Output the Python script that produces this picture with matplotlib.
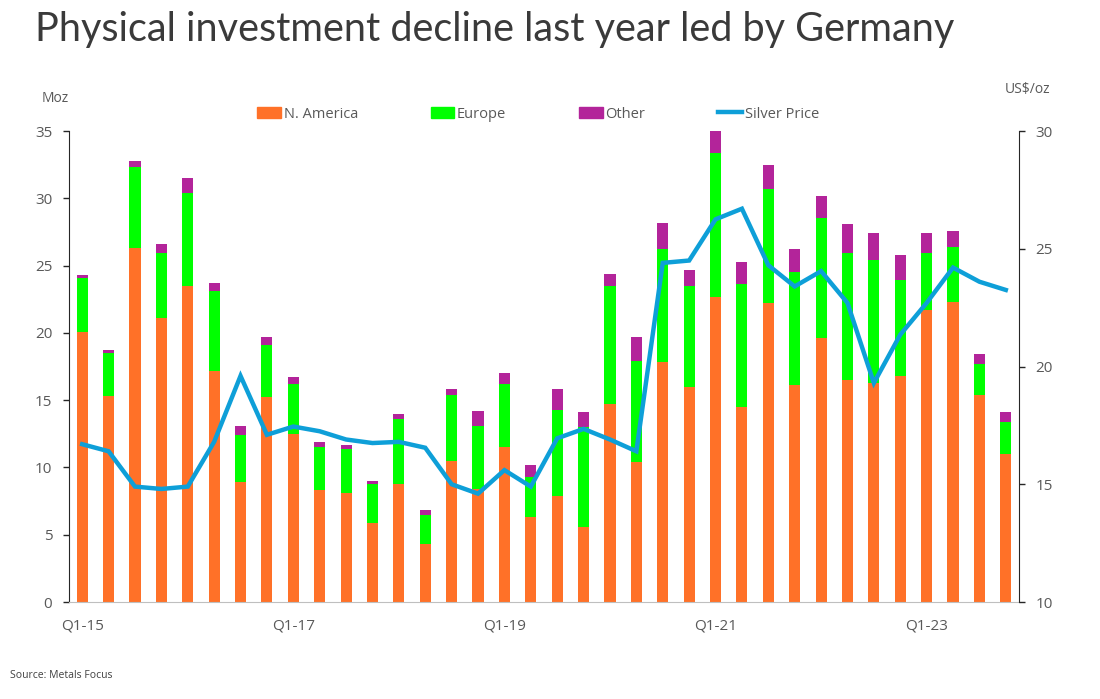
import numpy as np
import matplotlib
matplotlib.use("Agg")
import matplotlib.pyplot as plt
from matplotlib.patches import Patch
from matplotlib.lines import Line2D

plt.rcParams['font.family'] = ['Open Sans', 'DejaVu Sans']

# quarterly data, Q1-15 .. Q4-23
quarters = ["Q%d-%d" % (q, y) for y in range(15, 24) for q in range(1, 5)]
n_america = [20.1, 15.3, 26.3, 21.1, 23.5, 17.2, 8.9, 15.2, 12.5, 8.3,
             8.1, 5.9, 8.8, 4.3, 10.5, 8.4, 11.5, 6.3, 7.9, 5.6,
             14.7, 10.4, 17.8, 16.0, 22.7, 14.5, 22.2, 16.1, 19.6, 16.5,
             16.3, 16.8, 21.7, 22.3, 15.4, 11.0]
europe = [4.0, 3.2, 6.0, 4.8, 6.9, 5.9, 3.5, 3.9, 3.7, 3.2,
          3.3, 2.9, 4.8, 2.2, 4.9, 4.7, 4.7, 3.0, 6.4, 7.4,
          8.8, 7.5, 8.4, 7.5, 10.7, 9.1, 8.5, 8.4, 8.9, 9.4,
          9.1, 7.1, 4.2, 4.1, 2.3, 2.4]
other = [0.2, 0.2, 0.5, 0.7, 1.1, 0.6, 0.7, 0.6, 0.5, 0.4,
         0.3, 0.2, 0.4, 0.3, 0.4, 1.1, 0.8, 0.9, 1.5, 1.1,
         0.9, 1.8, 2.0, 1.2, 1.6, 1.7, 1.8, 1.7, 1.7, 2.2,
         2.0, 1.9, 1.5, 1.2, 0.7, 0.7]
silver_price = [16.7, 16.4, 14.9, 14.8, 14.9, 16.8, 19.6, 17.1, 17.45, 17.25,
                16.9, 16.75, 16.8, 16.55, 15.0, 14.6, 15.6, 14.9, 16.95, 17.35,
                16.9, 16.4, 24.4, 24.5, 26.25, 26.7, 24.3, 23.4, 24.05, 22.7,
                19.3, 21.35, 22.7, 24.2, 23.6, 23.25]
tick_labels = ["Q1-15", "Q1-17", "Q1-19", "Q1-21", "Q1-23"]

c_na = "#FF7128"
c_eu = "#00FF00"
c_ot = "#B3249A"
c_px = "#0E9FD8"
grey = "#595959"

x = np.arange(len(quarters))
na = np.array(n_america)
eu = np.array(europe)
ot = np.array(other)

fig = plt.figure(figsize=(11, 6.99), dpi=100)
ax = fig.add_axes([69/1100, 1 - 602/699, 950/1100, 471/699])

ax.bar(x, na, width=0.42, color=c_na, zorder=2)
ax.bar(x, eu, width=0.42, bottom=na, color=c_eu, zorder=2)
ax.bar(x, ot, width=0.42, bottom=na + eu, color=c_ot, zorder=2)

ax.set_xlim(-0.5, 35.5)
ax.set_ylim(0, 35)
ax.set_yticks(range(0, 36, 5))
ax.set_xticks(x[::8])
ax.set_xticklabels(tick_labels)
ax.tick_params(axis='x', length=0, pad=12, labelsize=11, labelcolor=grey)
ax.tick_params(axis='y', length=4, width=1, pad=8, labelsize=11, labelcolor=grey, color="#262626")
for s in ["top", "right"]:
    ax.spines[s].set_visible(False)
ax.spines["left"].set_color("#262626")
ax.spines["bottom"].set_color("#BFBFBF")

ax2 = ax.twinx()
ax2.plot(x, silver_price, color=c_px, lw=3.2, zorder=3, solid_joinstyle="miter")
ax2.set_ylim(10, 30)
ax2.set_yticks(range(10, 31, 5))
ax2.tick_params(axis='y', length=4, width=1, pad=8, labelsize=11, labelcolor=grey, color="#262626")
for s in ["top", "left", "bottom"]:
    ax2.spines[s].set_visible(False)
ax2.spines["right"].set_color("#262626")

fig.text(35/1100, 1 - 30/699, "Physical investment decline last year led by Germany",
         fontsize=28.5, color="#3a3a3a", va="center", ha="left", family=["Lato", "DejaVu Sans"])
fig.text(42/1100, 1 - 98/699, "Moz", fontsize=10, color=grey, va="center")
fig.text(1005/1100, 1 - 90/699, "US$/oz", fontsize=10, color=grey, va="center")
fig.text(10/1100, 1 - 675/699, "Source: Metals Focus", fontsize=7.5, color="#404040", va="center")

handles = [Patch(color=c_na), Patch(color=c_eu), Patch(color=c_ot),
           Line2D([], [], color=c_px, lw=3.2)]
fig.legend(handles, ["N. America", "Europe", "Other", "Silver Price"],
           loc="center left", bbox_to_anchor=(250/1100, 1 - 114/699), ncol=4,
           frameon=False, fontsize=10.5, labelcolor=grey, handlelength=1.6,
           handleheight=0.7, handletextpad=0.2, columnspacing=5.0, borderpad=0)

fig.savefig("out.png", dpi=100)
